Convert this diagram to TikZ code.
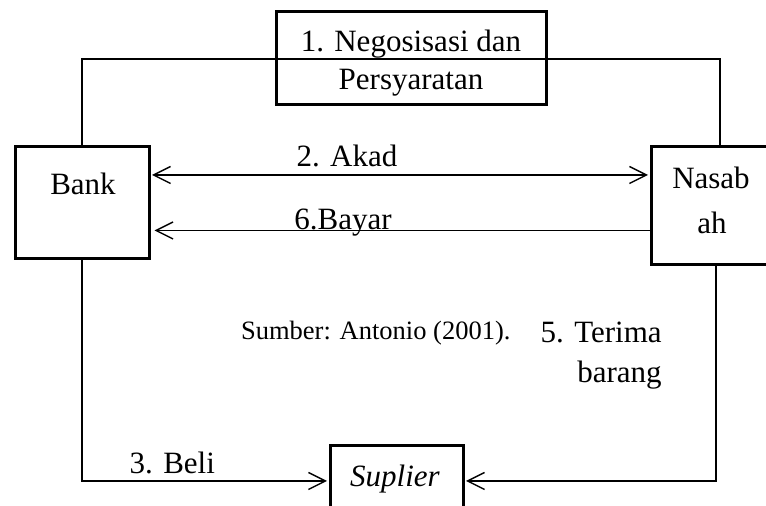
\documentclass[tikz,border=0pt]{standalone}
\usepackage{fontspec}
\setmainfont{Liberation Serif}
\usetikzlibrary{arrows.meta,calc}
\begin{document}
\begin{tikzpicture}[x=0.5pt,y=-0.5pt,
  boxst/.style={draw, line width=1.5pt, inner sep=0pt},
  conn/.style={line width=0.7pt},
  barb/.tip={Straight Barb[length=8.5pt,width=8.5pt]},
  tip/.style={-barb},
  both/.style={barb-barb},
  lbl/.style={font=\fontsize{15.5}{18}\selectfont, inner sep=0pt, anchor=base},
]
\useasboundingbox (0,0) rectangle (766,506);
\clip (0,0) rectangle (766,506);

% boxes
\node[boxst, minimum width=135pt, minimum height=46.5pt] (topbox) at (411,58.5) {};
\node[boxst, minimum width=67pt, minimum height=56pt] (bank) at (82,203) {};
\node[boxst, minimum width=60pt, minimum height=59pt] (nasabah) at (711,206) {};
\node[boxst, minimum width=66.5pt, minimum height=40pt] (suplier) at (396.5,486) {};

% box texts
\node[lbl] (t1) at (411,51.7) {1. Negosisasi dan};
\node[lbl] (t1b) at (411,90) {Persyaratan};
\node[lbl] (tbank) at (83,194.7) {Bank};
\node[lbl] (tnas1) at (711,188.3) {Nasab};
\node[lbl] (tnas2) at (712,233.3) {ah};
\node[lbl, font=\fontsize{15.5}{18}\selectfont\itshape] (tsup) at (395,486.7) {Suplier};

% connector labels
\node[lbl] (takad) at (347,166.7) {2. Akad};
\node[lbl] (tbayar) at (343,229.3) {6.Bayar};
\node[lbl] (tbeli) at (172.3,474) {3. Beli};
\node[lbl, font=\fontsize{13.25}{16}\selectfont] (tsum) at (375.8,339.3) {Sumber: Antonio (2001).};
\node[lbl, anchor=base east] (tter1) at (662,343) {5. Terima};
\node[lbl, anchor=base east] (tter2) at (662,383) {barang};

% coordinates for connector levels
\coordinate (topy) at (0,59);
\coordinate (akady) at (0,175);
\coordinate (bayary) at (0,230.5);
\coordinate (liney) at (0,481);

% connectors
\draw[conn] (bank.north) |- (topy -| topbox.west) -- (topy -| topbox.east) -| ($(nasabah.north)+(9,0)$);
\draw[conn, both, shorten <=0.75pt, shorten >=0.75pt] (akady -| bank.east) -- (akady -| nasabah.west);
\draw[conn, tip, shorten >=2pt] (bayary -| nasabah.west) -- (bayary -| bank.east);
\draw[conn, tip, shorten >=0.75pt] (bank.south) |- (liney -| suplier.west);
\draw[conn, tip, shorten >=0.75pt] ($(nasabah.south)+(5,0)$) |- (liney -| suplier.east);
\end{tikzpicture}
\end{document}
